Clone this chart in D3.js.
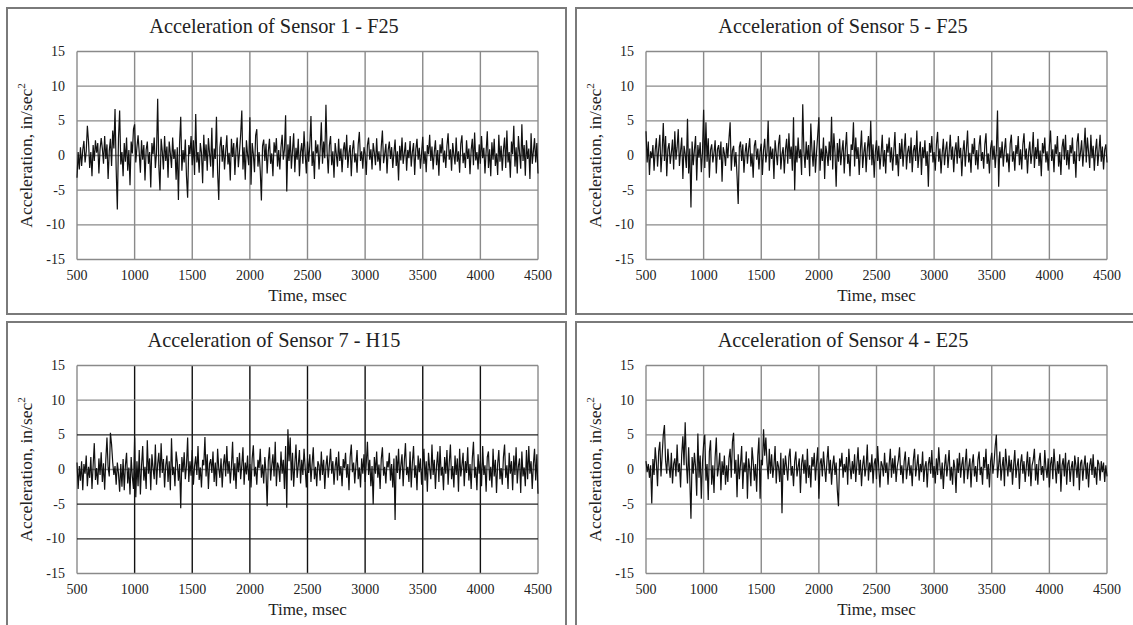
<!DOCTYPE html>
<html>
<head>
<meta charset="utf-8">
<script src="https://cdn.jsdelivr.net/npm/d3@7.9.0/dist/d3.min.js"></script>
<style>
  body { margin: 0; background: #fff; }
  svg text { font-family: "Liberation Serif", "Times New Roman", serif; fill: #222; }
</style>
</head>
<body>
<svg id="chart" width="1133" height="625"></svg>
<script>
// sampling grid of the recorded signals, msec
const time = d3.range(500, 4501, 10);

const xTicks = [500, 1000, 1500, 2000, 2500, 3000, 3500, 4000, 4500];
const yTicks = [-15, -10, -5, 0, 5, 10, 15];

const titles = [
  'Acceleration of Sensor 1 - F25',
  'Acceleration of Sensor 5 - F25',
  'Acceleration of Sensor 7 - H15',
  'Acceleration of Sensor 4 - E25'
];

// acceleration, in/sec^2, one value every 10 msec from 500 to 4500
const sensor1 = [
  -3.2, 0.5, -2.0, 1.2, -1.5, 0.8, 2.1, -1.0, 0.6, 4.3,
  2.0, -1.8, 0.5, -3.0, 1.5, -0.8, 2.2, 0.4, 1.8, -2.6,
  0.9, 2.5, 1.0, -1.2, 2.8, -0.5, 1.6, -3.4, 0.7, 2.4,
  -1.5, 3.6, 1.0, 6.7, -2.0, -7.8, 2.5, 6.5, -1.3, 0.5,
  -3.0, 1.8, -0.9, 2.6, -2.2, 0.8, -4.3, 2.0, 0.3, 3.8,
  4.5, -1.0, 1.2, 2.9, 0.4, -2.5, 2.2, -0.6, 1.5, -3.6,
  0.8, 2.0, -1.2, 0.5, -4.6, 1.8, 0.2, 2.6, -1.8, 0.4,
  8.2, -1.5, -5.0, 2.4, 0.6, -2.0, 2.8, -0.8, 1.3, -3.2,
  2.0, 0.3, -1.8, 2.6, -0.5, 0.9, -3.5, 1.2, -6.4, 1.8,
  5.6, -2.2, 0.8, -1.0, 2.3, -3.0, -6.1, 1.5, 0.2, 2.8,
  -1.4, 2.2, -2.8, 6.0, -1.0, 0.5, -2.5, 1.8, 0.4, -4.0,
  3.0, -0.8, 1.6, -2.2, 2.5, 0.3, -1.6, 4.0, -3.2, 1.0,
  -0.5, 5.6, -2.4, -6.4, 1.2, 2.7, -0.9, 1.5, -2.0, 0.6,
  2.9, -1.3, 0.4, -3.6, 2.4, -0.2, 1.8, -2.8, 0.9, 2.6,
  -1.7, 0.5, 3.0, 6.5, -2.0, 1.2, -3.5, 2.2, 0.1, -1.4,
  5.5, -4.2, 1.8, 0.2, -2.4, 2.9, 3.8, -1.6, 0.5, -2.2,
  -6.5, 1.4, 2.3, -0.8, 1.7, -2.6, 0.6, 2.4, -1.2, 0.3,
  -3.0, 1.9, 0.4, 2.5, -1.6, 0.8, -2.0, 1.2, 3.0, -0.6,
  0.9, 5.8, -5.2, 1.6, -0.8, 2.8, -1.9, 0.7, 3.2, -2.4,
  1.1, -0.6, 2.4, -3.0, 0.5, 1.8, -1.2, 3.5, 0.2, -2.6,
  2.0, -0.9, 1.4, 5.7, -1.5, 0.6, -3.4, 2.2, 0.3, 1.6,
  -2.0, 0.9, 4.8, -1.2, 2.0, -0.4, 7.3, 0.5, -2.6, 1.5,
  2.8, -1.4, 0.6, -3.2, 1.8, 0.2, -1.6, 2.4, -0.8, 1.0,
  -2.4, 0.7, 1.9, -0.6, 3.0, -1.8, 0.4, 1.5, -3.0, 0.8,
  2.2, -1.0, 0.3, -2.5, 1.6, 3.4, -0.8, 0.6, -1.9, 1.2,
  0.2, -2.8, 1.5, 2.6, -0.6, 0.9, -2.0, 1.8, 0.4, -1.4,
  2.5, -0.9, 0.6, -2.2, 1.3, 3.6, -1.1, 0.2, 1.7, -2.6,
  0.8, 2.0, -0.5, 1.2, -1.8, 0.4, 2.3, -1.5, 0.6, -3.6,
  1.4, -0.7, 2.6, -1.2, 0.3, 1.9, -2.2, 0.8, -0.4, 2.1,
  -1.6, 0.5, 1.8, -2.8, 0.9, 2.4, -0.6, 1.1, -1.9, 0.3,
  2.7, -1.2, 0.6, -2.4, 1.5, 0.2, 3.0, -0.8, 1.3, -2.0,
  0.5, 2.2, -1.4, 0.8, -2.9, 1.6, 0.3, 2.5, -1.0, 0.7,
  -1.8, 1.4, 3.2, -0.6, 0.9, -2.2, 1.8, 0.1, -1.3, 2.6,
  -0.9, 0.6, -2.5, 1.7, 2.9, -1.1, 0.4, -1.8, 2.2, -0.5,
  1.0, -2.7, 0.8, 2.4, -1.4, 3.3, -0.7, 0.5, -2.0, 1.6,
  -1.2, 2.8, -0.4, 1.1, -2.6, 0.6, 3.5, -1.8, 0.9, -3.0,
  1.9, -0.6, 2.4, -1.5, 0.3, -2.8, 3.0, -0.9, 1.4, -2.2,
  0.8, 2.6, -1.8, 3.6, -1.0, 0.5, -3.2, 2.0, 0.2, 4.3,
  -1.6, 1.2, -2.6, 2.8, 0.4, -1.9, 4.5, -0.8, 1.5, -2.9,
  2.2, -0.5, 1.0, -3.4, 3.2, -1.2, 0.6, 2.5, -1.0, 1.8,
  -2.6
];

const sensor5 = [
  3.5, -1.0, 2.0, -2.8, 0.6, -0.4, 1.5, -2.2, 0.8, 2.5,
  -1.6, 1.0, 3.0, -2.4, 0.5, 4.7, -0.8, 2.8, -3.0, 0.9,
  1.8, -1.2, 0.4, 2.3, -2.0, 3.5, -0.6, 1.2, 3.8, -1.5,
  0.6, 2.6, -3.4, 1.4, 0.2, -1.8, 5.3, -2.6, 1.0, -7.5,
  2.0, -1.4, 0.8, 2.8, -3.6, 1.5, -0.3, 1.9, -2.4, 0.5,
  6.6, -1.8, 4.8, -0.9, 2.5, -3.2, 0.8, 1.6, -1.0, 0.4,
  2.2, -2.6, 0.9, 1.5, -0.6, 2.0, -3.8, 1.2, 0.3, -1.5,
  1.8, -0.4, 2.4, 4.8, -2.2, 0.7, 1.4, -1.6, 0.5, -3.0,
  -7.0, 1.2, 2.0, -0.8, 1.6, -2.5, 0.4, 1.8, -1.2, 0.9,
  2.5, -1.6, 0.3, -3.2, 1.4, 2.2, -0.6, 1.0, -2.0, 0.6,
  1.7, -2.8, 0.8, 2.4, -1.0, 0.5, 5.0, -2.2, 1.3, -0.5,
  1.0, -3.4, 2.2, 0.4, -1.4, 1.6, 3.0, -2.0, 0.2, 1.2,
  -2.6, 0.8, 2.4, -1.2, 3.2, -0.5, 1.3, -2.2, 5.5, -5.0,
  1.4, -1.0, 2.6, -0.4, 0.9, -2.8, 7.4, 0.6, -1.8, 2.0,
  -0.6, 1.5, -3.0, 4.6, 0.8, -1.6, 2.2, -2.5, 0.5, 3.0,
  5.5, -2.2, 1.0, -0.8, 2.6, -3.4, 1.4, 0.3, -1.5, 2.0,
  -0.7, 5.6, -2.0, 3.2, 0.4, -4.5, 1.8, -0.9, 2.4, -1.4,
  0.6, 2.2, -2.6, 1.0, 3.4, -1.2, 0.2, -3.0, 1.6, 0.8,
  4.8, -1.6, 2.6, -0.5, 1.2, -2.8, 0.7, 3.6, -1.8, 0.4,
  1.9, -2.4, 0.9, 2.8, -0.6, 5.0, -1.4, 1.6, -3.2, 0.5,
  2.2, -0.8, 1.4, -2.0, 0.3, 3.0, -1.6, 0.8, -2.6, 1.7,
  0.4, 2.6, -1.0, 1.2, -2.2, 0.6, 3.4, -1.4, 0.2, -3.0,
  1.8, -0.5, 2.4, -1.6, 0.9, 3.2, -2.0, 0.5, 1.4, -1.1,
  2.6, -2.4, 0.7, 1.5, -0.8, 3.6, -1.8, 0.3, 2.0, -2.8,
  1.2, -0.4, 2.2, -1.5, 0.6, -4.5, 1.8, 0.4, 2.8, -1.0,
  0.5, -2.2, 1.6, 3.4, -0.9, 1.0, -2.6, 0.3, 2.4, -1.4,
  0.8, 2.0, -1.8, 0.4, 3.0, -0.6, 1.3, -2.4, 0.7, 1.9,
  -1.2, 2.8, -0.4, 1.1, -3.0, 0.6, 2.2, -1.6, 0.9, 3.6,
  -1.0, 0.4, -2.5, 1.7, 0.2, 2.5, -1.4, 0.8, -2.0, 1.4,
  2.9, -0.8, 0.5, -1.9, 1.6, 3.2, -1.2, 0.3, -2.6, 1.0,
  2.2, -0.6, 1.4, -1.8, 0.7, 6.5, -4.5, 1.2, -0.4, 2.0,
  -1.6, 0.8, 2.5, -1.0, 0.3, -2.4, 1.7, 3.0, -0.9, 0.6,
  -2.2, 1.5, 0.2, 2.8, -1.4, 0.9, -2.0, 1.6, 3.2, -0.6,
  1.0, -2.6, 0.5, 2.0, -1.2, 0.4, 3.4, -1.8, 1.2, -0.5,
  2.4, -1.5, 0.7, -3.0, 1.8, 0.3, 2.6, -1.0, 0.6, -2.2,
  1.4, 3.6, -0.8, 0.9, -2.4, 1.6, 0.2, 2.8, -1.6, 0.5,
  -2.8, 1.2, 2.4, -0.6, 3.0, -1.4, 0.8, -2.0, 1.5, 0.3,
  2.6, -1.2, 0.6, -3.2, 1.9, 3.2, -0.8, 0.4, 2.2, -1.6,
  0.9, 4.0, -1.0, 2.6, 0.5, -1.8, 3.0, -0.4, 1.4, -2.2,
  0.7, 2.4, -1.5, 0.6, 3.0, -0.9, 1.3, -2.0, 0.8, 1.6,
  -1.0
];

const sensor7 = [
  1.0, -2.8, 0.5, -1.6, 1.2, -3.0, 0.8, -0.6, 2.0, -2.4,
  0.4, -1.2, 1.8, -2.8, 0.6, 3.8, -1.5, 0.2, -2.2, 1.6,
  -0.8, 2.5, -1.8, 0.9, -2.9, 1.4, 4.6, 0.3, -1.0, 5.3,
  3.6, 1.0, -0.8, 0.5, -2.2, 1.0, -0.6, -3.2, 0.8, -2.5,
  1.5, -3.0, 0.6, 2.4, -2.0, 0.3, -3.6, 1.8, -1.0, -2.8,
  4.6, -4.0, 1.2, -2.4, 2.8, -3.6, 0.5, 3.4, -1.6, 0.4,
  -2.8, 4.2, -0.6, 1.6, -3.0, 2.2, 0.2, -1.4, 3.6, -2.2,
  0.8, 2.4, -1.2, 3.8, -0.5, 1.5, -2.6, 0.6, 2.0, -1.8,
  1.2, -3.0, 4.5, -0.8, 0.4, -2.4, 2.6, 1.0, -1.6, 0.8,
  -5.6, 1.8, -0.4, 2.5, -1.4, 0.6, 4.6, -1.8, 1.2, -0.9,
  2.8, -2.2, 0.5, 1.9, -0.8, 3.4, -1.5, 0.3, -2.6, 1.4,
  0.6, 4.7, -1.0, 2.2, -2.8, 0.8, 1.5, -0.5, 2.6, -1.8,
  1.0, -2.4, 3.0, 0.2, -1.2, 1.6, -2.6, 0.7, 2.2, -1.0,
  3.4, -0.6, 1.2, -2.0, 0.5, 4.0, -1.6, 0.9, -2.8, 1.8,
  -0.4, 2.4, -1.4, 0.6, 3.2, -2.2, 1.0, -0.7, 2.0, -1.6,
  0.8, -2.6, 1.6, 3.5, -1.0, 0.4, -2.2, 1.4, 0.2, 3.0,
  -1.2, 0.7, -2.0, 1.8, -0.5, -5.3, 1.2, 3.2, -1.6, 0.6,
  2.2, -1.0, 4.0, -2.4, 1.0, 0.3, -1.8, 2.6, -0.6, 1.4,
  -2.8, 3.4, -5.5, 5.8, 1.2, 4.6, -1.6, 2.4, -2.5, 0.8,
  3.6, -1.2, 0.6, 2.8, -2.0, 1.4, -0.8, 3.0, 0.2, -2.6,
  1.6, -0.5, 2.2, -1.8, 0.8, 3.2, -1.4, 0.4, -2.4, 1.2,
  0.6, -1.6, 2.6, -0.8, 1.4, -2.8, 0.5, 2.0, -1.2, 0.8,
  3.0, -0.6, 1.2, -2.2, 0.4, 1.8, -1.6, 2.6, -0.9, 0.5,
  -2.4, 1.5, 0.2, 2.4, -1.2, 0.8, -3.0, 1.8, 3.6, -0.4,
  1.0, -2.0, 0.6, 2.8, -1.4, 0.3, -2.6, 1.6, -0.6, 2.2,
  -1.8, 0.9, 4.0, -0.8, 1.4, -2.4, 0.5, -5.0, 1.8, -0.6,
  2.6, -1.2, 0.7, -2.8, 1.5, 3.2, -0.9, 0.4, -2.0, 1.2,
  0.3, 2.4, -1.6, 0.8, -2.6, 1.6, -7.3, 2.0, -0.5, 3.0,
  -1.4, 0.6, 2.2, -2.4, 1.2, 3.8, -0.8, 0.4, -1.8, 2.6,
  -2.6, 1.0, 3.4, -1.2, 0.6, -3.0, 2.0, -0.4, 1.6, -2.2,
  0.8, 3.0, -1.6, 1.2, -3.2, 2.4, 0.2, -1.4, 3.6, -0.8,
  1.4, -2.8, 0.6, 2.6, -1.8, 3.4, -0.9, 0.4, -3.0, 1.8,
  -0.6, 2.8, -2.2, 1.0, 3.6, -1.4, 0.5, -2.6, 2.0, -0.8,
  1.6, -3.2, 3.0, -1.0, 0.6, 2.4, -2.4, 1.2, -0.5, 3.2,
  -1.6, 0.8, -2.8, 1.6, 4.0, -1.2, 0.4, -3.0, 2.2, -0.6,
  1.2, -2.4, 3.4, -0.8, 0.6, -3.2, 1.8, 2.6, -1.6, 0.4,
  -2.6, 3.0, -1.0, 1.4, -3.4, 0.8, 2.8, -1.4, 0.2, -2.2,
  1.8, 3.6, -1.2, 0.6, -2.8, 2.4, -0.6, 1.2, -3.0, 2.0,
  -0.8, 3.2, -2.0, 0.5, 1.6, -3.4, 2.6, -1.0, 0.3, -2.4,
  2.8, -1.4, 3.4, -0.6, 1.2, -2.8, 0.8, 3.0, -1.6, 2.2,
  -3.5
];

const sensor4 = [
  1.2, -0.4, 0.8, -1.2, 0.6, -4.9, 1.5, -0.8, 3.2, 1.0,
  -2.4, 2.6, 4.0, -1.0, 2.0, 5.0, 6.4, 1.2, -0.6, 3.0,
  0.5, -1.2, 2.4, -2.0, 0.8, 1.6, -1.0, 3.6, -0.4, 0.9,
  -2.6, 2.2, 4.8, 0.6, 6.8, 1.0, -2.0, 3.2, -1.4, -7.1,
  1.8, -0.6, 2.4, 0.4, -3.8, 5.2, -1.2, 2.0, -4.2, 1.0,
  3.6, 5.0, -1.6, 0.8, -4.4, 2.6, 4.2, -2.2, 0.6, -3.4,
  1.8, 4.6, -1.0, 0.3, 2.4, -3.0, 1.2, -0.8, 2.0, -2.2,
  0.6, -1.8, 1.6, 3.0, -1.2, 4.0, 5.3, -0.6, 1.4, -4.0,
  2.2, -1.4, 0.8, 3.4, -2.8, 1.0, -0.4, 2.6, -4.2, 1.6,
  0.2, -2.4, 3.2, 1.2, -1.6, 0.8, -3.2, 2.0, 4.6, -4.2,
  1.4, 0.6, 5.8, 2.0, 4.6, 1.0, -1.4, 3.0, -0.6, 2.2,
  -1.2, 0.6, 3.4, -2.0, 1.2, 0.4, -1.8, 2.4, -6.3, 1.6,
  -0.8, 2.0, 0.3, -1.6, 1.8, 3.0, -0.9, 0.5, -2.4, 1.2,
  2.6, -1.0, 0.4, 1.6, -3.4, 0.8, 2.2, -0.6, 1.4, -2.0,
  3.0, -1.2, 0.6, -2.6, 1.8, 0.4, 2.4, -1.6, 1.0, 3.2,
  -4.2, 0.8, 1.6, -1.0, 2.6, 0.3, -1.8, 1.2, 3.4, -0.6,
  1.4, -2.2, 0.6, 2.0, -0.8, 1.0, -3.0, -5.3, 1.6, 0.4,
  2.4, -1.2, 0.8, -0.4, 1.8, -2.2, 3.0, 0.5, -1.4, 1.2,
  -0.6, 2.2, -1.8, 0.9, 3.2, -0.8, 1.4, -2.4, 0.6, 2.0,
  -1.0, 0.4, 3.6, -1.6, 1.0, -0.4, 2.2, -2.0, 0.8, 1.6,
  -1.4, 3.4, 0.2, -2.6, 1.2, 0.6, -1.0, 2.4, -0.5, 1.0,
  -2.2, 0.8, 3.0, -1.2, 1.6, -0.6, 2.0, -1.8, 0.4, 1.4,
  3.2, -0.8, 0.6, -2.0, 1.2, 2.6, -1.4, 0.3, 1.8, -0.9,
  0.6, -2.4, 1.4, 3.0, -1.0, 0.5, 2.2, -1.6, 0.8, -0.4,
  2.6, -1.8, 0.4, 1.2, -2.6, 0.8, 1.8, -0.6, 2.8, -1.2,
  0.5, -2.0, 1.6, -0.8, 3.2, 0.6, -1.4, 1.0, -2.8, 0.4,
  2.2, -1.0, 0.8, 2.8, -1.6, 0.4, -2.2, 1.4, 0.2, -3.4,
  1.6, -0.5, 2.4, -1.2, 0.7, 1.8, -2.0, 0.9, 3.0, -1.4,
  0.3, 1.6, -2.6, 0.8, 2.2, -1.0, 0.5, -1.8, 1.4, 2.6,
  -0.8, 0.4, -2.2, 1.8, 0.2, 3.0, -1.4, 0.8, -2.6, 1.2,
  2.4, -0.6, 1.0, 3.4, 5.0, -1.2, 0.6, 2.6, -1.6, 0.4,
  1.8, -2.4, 3.0, 0.8, -1.0, 2.0, -0.4, 1.4, -2.2, 0.6,
  2.8, -1.2, 0.5, 1.6, -2.8, 0.9, 2.2, -0.6, 1.2, -1.8,
  0.4, 2.6, -1.0, 1.8, -2.4, 0.6, 1.4, 3.0, -1.6, 0.8,
  -2.2, 1.2, 2.4, -0.8, 0.5, -1.6, 2.8, 0.2, -1.2, 1.6,
  -2.6, 0.8, 1.8, -1.4, 3.0, 0.4, -2.0, 1.2, -0.6, 2.2,
  -3.2, 0.6, 1.6, -1.0, 2.4, -2.2, 0.8, 1.4, -1.8, 0.3,
  1.2, -2.4, 2.0, 0.6, -1.2, 1.8, -3.0, 0.9, 1.4, -1.6,
  0.5, 2.0, -1.4, 1.0, -2.6, 0.6, 1.6, -0.8, 2.2, -1.2,
  0.4, -2.2, 1.4, 0.8, -1.6, 1.2, -0.4, 1.0, -1.8, 0.6,
  -1.0
];

const svg = d3.select('#chart');

// panel boxes (left, top) and the chart that goes in each
const panels = [
  { title: titles[0], values: sensor1, left: 7, top: 8, bottom: 314, dark: false },
  { title: titles[1], values: sensor5, left: 576, top: 8, bottom: 314, dark: false },
  { title: titles[2], values: sensor7, left: 7, top: 322, bottom: 640, dark: true },
  { title: titles[3], values: sensor4, left: 576, top: 322, bottom: 640, dark: false }
];

const plotW = 461, plotH = 208;

panels.forEach(p => {
  svg.append('rect')
    .attr('x', p.left)
    .attr('y', p.top)
    .attr('width', 559)
    .attr('height', p.bottom - p.top)
    .attr('fill', 'none')
    .attr('stroke', '#7a7a7a')
    .attr('stroke-width', 2);

  const ox = p.left + 70;
  const oy = p.top + 43.5;
  const g = svg.append('g').attr('transform', `translate(${ox},${oy})`);

  const x = d3.scaleLinear().domain([500, 4500]).range([0, plotW]);
  const y = d3.scaleLinear().domain([-15, 15]).range([plotH, 0]);

  const grey = '#8a8a8a';
  const vCol = p.dark ? '#111' : grey;
  const hCol = v => (p.dark && (v === 5 || v === -10 || v === -5)) ? '#222' : grey;

  g.selectAll('.vg').data(xTicks).join('line')
    .attr('x1', d => x(d)).attr('x2', d => x(d))
    .attr('y1', 0).attr('y2', plotH)
    .attr('stroke', (d, i) => (i === 0 || i === xTicks.length - 1) ? grey : vCol)
    .attr('stroke-width', 1.4);

  g.selectAll('.hg').data(yTicks).join('line')
    .attr('x1', 0).attr('x2', plotW)
    .attr('y1', d => y(d)).attr('y2', d => y(d))
    .attr('stroke', d => hCol(d))
    .attr('stroke-width', 1.4);

  const line = d3.line()
    .x((d, i) => x(time[i]))
    .y(d => y(d));

  g.append('path')
    .datum(p.values)
    .attr('d', line)
    .attr('fill', 'none')
    .attr('stroke', '#111')
    .attr('stroke-width', 1.2)
    .attr('stroke-linejoin', 'miter');

  // tick labels
  g.selectAll('.xl').data(xTicks).join('text')
    .attr('x', d => x(d))
    .attr('y', plotH + 20)
    .attr('text-anchor', 'middle')
    .attr('font-size', 14)
    .text(d => d);

  g.selectAll('.yl').data(yTicks).join('text')
    .attr('x', -12)
    .attr('y', d => y(d) + 4.5)
    .attr('text-anchor', 'end')
    .attr('font-size', 14)
    .text(d => d);

  // titles
  svg.append('text')
    .attr('x', p.left + 267)
    .attr('y', p.top + 25)
    .attr('text-anchor', 'middle')
    .attr('font-size', 20.3)
    .text(p.title);

  g.append('text')
    .attr('x', plotW / 2)
    .attr('y', plotH + 41)
    .attr('text-anchor', 'middle')
    .attr('font-size', 17)
    .text('Time, msec');

  const yt = g.append('text')
    .attr('transform', `translate(${-45},${plotH / 2}) rotate(-90)`)
    .attr('text-anchor', 'middle')
    .attr('font-size', 17.5);
  yt.append('tspan').text('Acceleration, in/sec');
  yt.append('tspan').attr('font-size', 11).attr('dy', -7).text('2');
});
</script>
</body>
</html>
